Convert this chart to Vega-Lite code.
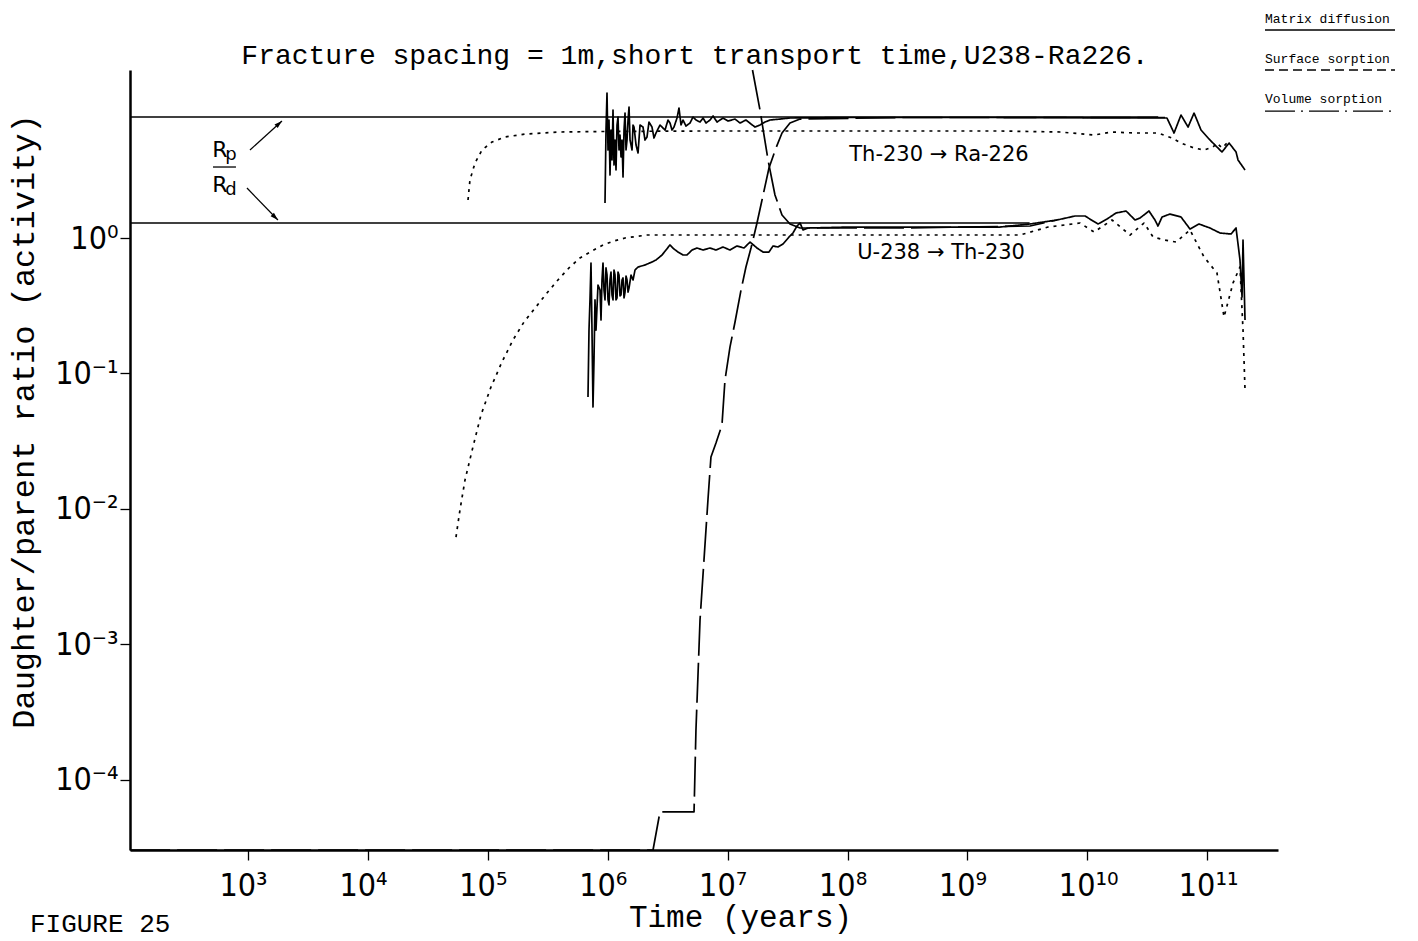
{
  "$schema": "https://vega.github.io/schema/vega-lite/v6.json",
  "width": 1148,
  "height": 780,
  "autosize": {"type": "none"},
  "padding": {"left": 130, "top": 70, "right": 140, "bottom": 91},
  "background": "white",
  "config": {"view": {"stroke": null}},
  "title": {
    "text": "Fracture spacing = 1m,short transport time,U238-Ra226.",
    "font": "Liberation Mono", "fontSize": 28, "fontWeight": "normal", "color": "black",
    "anchor": "middle", "frame": "group", "dx": -9, "dy": 85, "offset": 6, "baseline": "alphabetic"
  },
  "datasets": {
    "refs": [
      {"line": "Rp/Rd upper", "time": 104, "ratio": 7.82},
      {"line": "Rp/Rd upper", "time": 3.9e10, "ratio": 7.82},
      {"line": "Rp/Rd lower", "time": 104, "ratio": 1.29},
      {"line": "Rp/Rd lower", "time": 3.3e9, "ratio": 1.29}
    ],
    "curves": [
      {"series": "Th-230 to Ra-226, volume", "mechanism": "Volume sorption", "time": 6.84e4, "ratio": 1.908},
      {"series": "Th-230 to Ra-226, volume", "mechanism": "Volume sorption", "time": 7.10e4, "ratio": 2.679},
      {"series": "Th-230 to Ra-226, volume", "mechanism": "Volume sorption", "time": 7.82e4, "ratio": 3.577},
      {"series": "Th-230 to Ra-226, volume", "mechanism": "Volume sorption", "time": 8.95e4, "ratio": 4.462},
      {"series": "Th-230 to Ra-226, volume", "mechanism": "Volume sorption", "time": 1.084e5, "ratio": 5.110},
      {"series": "Th-230 to Ra-226, volume", "mechanism": "Volume sorption", "time": 1.39e5, "ratio": 5.564},
      {"series": "Th-230 to Ra-226, volume", "mechanism": "Volume sorption", "time": 2.042e5, "ratio": 5.853},
      {"series": "Th-230 to Ra-226, volume", "mechanism": "Volume sorption", "time": 4.0e5, "ratio": 6.058},
      {"series": "Th-230 to Ra-226, volume", "mechanism": "Volume sorption", "time": 8.63e5, "ratio": 6.109},
      {"series": "Th-230 to Ra-226, volume", "mechanism": "Volume sorption", "time": 5.888e6, "ratio": 6.163},
      {"series": "Th-230 to Ra-226, volume", "mechanism": "Volume sorption", "time": 1.05e8, "ratio": 6.163},
      {"series": "Th-230 to Ra-226, volume", "mechanism": "Volume sorption", "time": 1.871e9, "ratio": 6.163},
      {"series": "Th-230 to Ra-226, volume", "mechanism": "Volume sorption", "time": 5.916e9, "ratio": 6.058},
      {"series": "Th-230 to Ra-226, volume", "mechanism": "Volume sorption", "time": 1.137e10, "ratio": 5.755},
      {"series": "Th-230 to Ra-226, volume", "mechanism": "Volume sorption", "time": 1.607e10, "ratio": 6.058},
      {"series": "Th-230 to Ra-226, volume", "mechanism": "Volume sorption", "time": 2.5e10, "ratio": 5.956},
      {"series": "Th-230 to Ra-226, volume", "mechanism": "Volume sorption", "time": 3.882e10, "ratio": 5.956},
      {"series": "Th-230 to Ra-226, volume", "mechanism": "Volume sorption", "time": 5.082e10, "ratio": 5.47},
      {"series": "Th-230 to Ra-226, volume", "mechanism": "Volume sorption", "time": 6.039e10, "ratio": 5.024},
      {"series": "Th-230 to Ra-226, volume", "mechanism": "Volume sorption", "time": 7.762e10, "ratio": 4.616},
      {"series": "Th-230 to Ra-226, volume", "mechanism": "Volume sorption", "time": 9.397e10, "ratio": 4.462},
      {"series": "Th-230 to Ra-226, volume", "mechanism": "Volume sorption", "time": 1.117e11, "ratio": 4.695},
      {"series": "Th-230 to Ra-226, volume", "mechanism": "Volume sorption", "time": 1.205e11, "ratio": 5.024},
      {"series": "Th-230 to Ra-226, volume", "mechanism": "Volume sorption", "time": 1.327e11, "ratio": 4.616},
      {"series": "Th-230 to Ra-226, volume", "mechanism": "Volume sorption", "time": 1.462e11, "ratio": 5.024},

      {"series": "Th-230 to Ra-226, matrix", "mechanism": "Matrix diffusion", "time": 9.495e5, "ratio": 1.813},
      {"series": "Th-230 to Ra-226, matrix", "mechanism": "Matrix diffusion", "time": 9.679e5, "ratio": 6.266},
      {"series": "Th-230 to Ra-226, matrix", "mechanism": "Matrix diffusion", "time": 9.867e5, "ratio": 11.75},
      {"series": "Th-230 to Ra-226, matrix", "mechanism": "Matrix diffusion", "time": 1.0058e6, "ratio": 4.462},
      {"series": "Th-230 to Ra-226, matrix", "mechanism": "Matrix diffusion", "time": 1.0253e6, "ratio": 7.428},
      {"series": "Th-230 to Ra-226, matrix", "mechanism": "Matrix diffusion", "time": 1.0452e6, "ratio": 2.917},
      {"series": "Th-230 to Ra-226, matrix", "mechanism": "Matrix diffusion", "time": 1.0655e6, "ratio": 6.266},
      {"series": "Th-230 to Ra-226, matrix", "mechanism": "Matrix diffusion", "time": 1.0862e6, "ratio": 3.764},
      {"series": "Th-230 to Ra-226, matrix", "mechanism": "Matrix diffusion", "time": 1.1073e6, "ratio": 8.805},
      {"series": "Th-230 to Ra-226, matrix", "mechanism": "Matrix diffusion", "time": 1.1287e6, "ratio": 3.457},
      {"series": "Th-230 to Ra-226, matrix", "mechanism": "Matrix diffusion", "time": 1.1507e6, "ratio": 5.287},
      {"series": "Th-230 to Ra-226, matrix", "mechanism": "Matrix diffusion", "time": 1.173e6, "ratio": 3.176},
      {"series": "Th-230 to Ra-226, matrix", "mechanism": "Matrix diffusion", "time": 1.1958e6, "ratio": 6.823},
      {"series": "Th-230 to Ra-226, matrix", "mechanism": "Matrix diffusion", "time": 1.219e6, "ratio": 7.816},
      {"series": "Th-230 to Ra-226, matrix", "mechanism": "Matrix diffusion", "time": 1.2427e6, "ratio": 4.462},
      {"series": "Th-230 to Ra-226, matrix", "mechanism": "Matrix diffusion", "time": 1.2668e6, "ratio": 5.755},
      {"series": "Th-230 to Ra-226, matrix", "mechanism": "Matrix diffusion", "time": 1.2914e6, "ratio": 3.961},
      {"series": "Th-230 to Ra-226, matrix", "mechanism": "Matrix diffusion", "time": 1.3165e6, "ratio": 5.287},
      {"series": "Th-230 to Ra-226, matrix", "mechanism": "Matrix diffusion", "time": 1.342e6, "ratio": 2.818},
      {"series": "Th-230 to Ra-226, matrix", "mechanism": "Matrix diffusion", "time": 1.3681e6, "ratio": 6.266},
      {"series": "Th-230 to Ra-226, matrix", "mechanism": "Matrix diffusion", "time": 1.3947e6, "ratio": 8.366},
      {"series": "Th-230 to Ra-226, matrix", "mechanism": "Matrix diffusion", "time": 1.4218e6, "ratio": 4.462},
      {"series": "Th-230 to Ra-226, matrix", "mechanism": "Matrix diffusion", "time": 1.4494e6, "ratio": 5.287},
      {"series": "Th-230 to Ra-226, matrix", "mechanism": "Matrix diffusion", "time": 1.4775e6, "ratio": 7.428},
      {"series": "Th-230 to Ra-226, matrix", "mechanism": "Matrix diffusion", "time": 1.5062e6, "ratio": 9.265},
      {"series": "Th-230 to Ra-226, matrix", "mechanism": "Matrix diffusion", "time": 1.5354e6, "ratio": 5.287},
      {"series": "Th-230 to Ra-226, matrix", "mechanism": "Matrix diffusion", "time": 1.5956e6, "ratio": 4.462},
      {"series": "Th-230 to Ra-226, matrix", "mechanism": "Matrix diffusion", "time": 1.6265e6, "ratio": 6.823},
      {"series": "Th-230 to Ra-226, matrix", "mechanism": "Matrix diffusion", "time": 1.6581e6, "ratio": 6.592},
      {"series": "Th-230 to Ra-226, matrix", "mechanism": "Matrix diffusion", "time": 1.723e6, "ratio": 4.857},
      {"series": "Th-230 to Ra-226, matrix", "mechanism": "Matrix diffusion", "time": 1.7903e6, "ratio": 4.24},
      {"series": "Th-230 to Ra-226, matrix", "mechanism": "Matrix diffusion", "time": 1.8603e6, "ratio": 6.823},
      {"series": "Th-230 to Ra-226, matrix", "mechanism": "Matrix diffusion", "time": 1.9695e6, "ratio": 6.592},
      {"series": "Th-230 to Ra-226, matrix", "mechanism": "Matrix diffusion", "time": 2.0465e6, "ratio": 5.287},
      {"series": "Th-230 to Ra-226, matrix", "mechanism": "Matrix diffusion", "time": 2.1265e6, "ratio": 5.564},
      {"series": "Th-230 to Ra-226, matrix", "mechanism": "Matrix diffusion", "time": 2.2097e6, "ratio": 7.178},
      {"series": "Th-230 to Ra-226, matrix", "mechanism": "Matrix diffusion", "time": 2.3407e6, "ratio": 6.592},
      {"series": "Th-230 to Ra-226, matrix", "mechanism": "Matrix diffusion", "time": 2.4321e6, "ratio": 5.47},
      {"series": "Th-230 to Ra-226, matrix", "mechanism": "Matrix diffusion", "time": 2.5273e6, "ratio": 5.956},
      {"series": "Th-230 to Ra-226, matrix", "mechanism": "Matrix diffusion", "time": 2.7299e6, "ratio": 6.823},
      {"series": "Th-230 to Ra-226, matrix", "mechanism": "Matrix diffusion", "time": 3.0058e6, "ratio": 6.266},
      {"series": "Th-230 to Ra-226, matrix", "mechanism": "Matrix diffusion", "time": 3.1835e6, "ratio": 7.428},
      {"series": "Th-230 to Ra-226, matrix", "mechanism": "Matrix diffusion", "time": 3.3083e6, "ratio": 7.06},
      {"series": "Th-230 to Ra-226, matrix", "mechanism": "Matrix diffusion", "time": 3.4376e6, "ratio": 6.266},
      {"series": "Th-230 to Ra-226, matrix", "mechanism": "Matrix diffusion", "time": 3.5721e6, "ratio": 6.592},
      {"series": "Th-230 to Ra-226, matrix", "mechanism": "Matrix diffusion", "time": 3.784e6, "ratio": 7.685},
      {"series": "Th-230 to Ra-226, matrix", "mechanism": "Matrix diffusion", "time": 3.9323e6, "ratio": 9.109},
      {"series": "Th-230 to Ra-226, matrix", "mechanism": "Matrix diffusion", "time": 4.086e6, "ratio": 6.823},
      {"series": "Th-230 to Ra-226, matrix", "mechanism": "Matrix diffusion", "time": 4.2458e6, "ratio": 7.428},
      {"series": "Th-230 to Ra-226, matrix", "mechanism": "Matrix diffusion", "time": 4.4977e6, "ratio": 6.708},
      {"series": "Th-230 to Ra-226, matrix", "mechanism": "Matrix diffusion", "time": 4.8575e6, "ratio": 7.06},
      {"series": "Th-230 to Ra-226, matrix", "mechanism": "Matrix diffusion", "time": 5.1456e6, "ratio": 7.816},
      {"series": "Th-230 to Ra-226, matrix", "mechanism": "Matrix diffusion", "time": 5.4508e6, "ratio": 7.428},
      {"series": "Th-230 to Ra-226, matrix", "mechanism": "Matrix diffusion", "time": 5.8886e6, "ratio": 7.178},
      {"series": "Th-230 to Ra-226, matrix", "mechanism": "Matrix diffusion", "time": 6.2378e6, "ratio": 7.685},
      {"series": "Th-230 to Ra-226, matrix", "mechanism": "Matrix diffusion", "time": 6.6078e6, "ratio": 7.06},
      {"series": "Th-230 to Ra-226, matrix", "mechanism": "Matrix diffusion", "time": 7.1366e6, "ratio": 7.428},
      {"series": "Th-230 to Ra-226, matrix", "mechanism": "Matrix diffusion", "time": 7.5599e6, "ratio": 7.95},
      {"series": "Th-230 to Ra-226, matrix", "mechanism": "Matrix diffusion", "time": 8.1647e6, "ratio": 7.178},
      {"series": "Th-230 to Ra-226, matrix", "mechanism": "Matrix diffusion", "time": 9.1566e6, "ratio": 7.685},
      {"series": "Th-230 to Ra-226, matrix", "mechanism": "Matrix diffusion", "time": 1.0077e7, "ratio": 7.30},
      {"series": "Th-230 to Ra-226, matrix", "mechanism": "Matrix diffusion", "time": 1.1527e7, "ratio": 7.551},
      {"series": "Th-230 to Ra-226, matrix", "mechanism": "Matrix diffusion", "time": 1.2688e7, "ratio": 7.06},
      {"series": "Th-230 to Ra-226, matrix", "mechanism": "Matrix diffusion", "time": 1.4236e7, "ratio": 7.428},
      {"series": "Th-230 to Ra-226, matrix", "mechanism": "Matrix diffusion", "time": 1.5672e7, "ratio": 6.94},
      {"series": "Th-230 to Ra-226, matrix", "mechanism": "Matrix diffusion", "time": 1.6921e7, "ratio": 6.592},
      {"series": "Th-230 to Ra-226, matrix", "mechanism": "Matrix diffusion", "time": 1.8629e7, "ratio": 6.823},
      {"series": "Th-230 to Ra-226, matrix", "mechanism": "Matrix diffusion", "time": 2.0509e7, "ratio": 7.178},
      {"series": "Th-230 to Ra-226, matrix", "mechanism": "Matrix diffusion", "time": 2.2579e7, "ratio": 7.428},
      {"series": "Th-230 to Ra-226, matrix", "mechanism": "Matrix diffusion", "time": 2.7353e7, "ratio": 7.551},
      {"series": "Th-230 to Ra-226, matrix", "mechanism": "Matrix diffusion", "time": 3.3139e7, "ratio": 7.685},
      {"series": "Th-230 to Ra-226, matrix", "mechanism": "Matrix diffusion", "time": 1.05e8, "ratio": 7.751},
      {"series": "Th-230 to Ra-226, matrix", "mechanism": "Matrix diffusion", "time": 1.871e9, "ratio": 7.751},
      {"series": "Th-230 to Ra-226, matrix", "mechanism": "Matrix diffusion", "time": 3.882e10, "ratio": 7.685},
      {"series": "Th-230 to Ra-226, matrix", "mechanism": "Matrix diffusion", "time": 4.613e10, "ratio": 7.685},
      {"series": "Th-230 to Ra-226, matrix", "mechanism": "Matrix diffusion", "time": 5.284e10, "ratio": 5.956},
      {"series": "Th-230 to Ra-226, matrix", "mechanism": "Matrix diffusion", "time": 6.039e10, "ratio": 8.086},
      {"series": "Th-230 to Ra-226, matrix", "mechanism": "Matrix diffusion", "time": 6.918e10, "ratio": 6.592},
      {"series": "Th-230 to Ra-226, matrix", "mechanism": "Matrix diffusion", "time": 7.762e10, "ratio": 8.366},
      {"series": "Th-230 to Ra-226, matrix", "mechanism": "Matrix diffusion", "time": 8.872e10, "ratio": 6.266},
      {"series": "Th-230 to Ra-226, matrix", "mechanism": "Matrix diffusion", "time": 1.054e11, "ratio": 5.287},
      {"series": "Th-230 to Ra-226, matrix", "mechanism": "Matrix diffusion", "time": 1.327e11, "ratio": 4.313},
      {"series": "Th-230 to Ra-226, matrix", "mechanism": "Matrix diffusion", "time": 1.521e11, "ratio": 5.024},
      {"series": "Th-230 to Ra-226, matrix", "mechanism": "Matrix diffusion", "time": 1.738e11, "ratio": 4.313},
      {"series": "Th-230 to Ra-226, matrix", "mechanism": "Matrix diffusion", "time": 1.806e11, "ratio": 3.764},
      {"series": "Th-230 to Ra-226, matrix", "mechanism": "Matrix diffusion", "time": 2.065e11, "ratio": 3.176},

      {"series": "Th-230 to Ra-226, surface", "mechanism": "Surface sorption", "time": 104, "ratio": 3.04e-5},
      {"series": "Th-230 to Ra-226, surface", "mechanism": "Surface sorption", "time": 2.388e6, "ratio": 3.04e-5},
      {"series": "Th-230 to Ra-226, surface", "mechanism": "Surface sorption", "time": 2.729e6, "ratio": 5.81e-5},
      {"series": "Th-230 to Ra-226, surface", "mechanism": "Surface sorption", "time": 5.248e6, "ratio": 5.81e-5},
      {"series": "Th-230 to Ra-226, surface", "mechanism": "Surface sorption", "time": 5.445e6, "ratio": 2.34e-4},
      {"series": "Th-230 to Ra-226, surface", "mechanism": "Surface sorption", "time": 5.888e6, "ratio": 1.52e-3},
      {"series": "Th-230 to Ra-226, surface", "mechanism": "Surface sorption", "time": 6.353e6, "ratio": 4.21e-3},
      {"series": "Th-230 to Ra-226, surface", "mechanism": "Surface sorption", "time": 6.855e6, "ratio": 1.164e-2},
      {"series": "Th-230 to Ra-226, surface", "mechanism": "Surface sorption", "time": 7.262e6, "ratio": 2.42e-2},
      {"series": "Th-230 to Ra-226, surface", "mechanism": "Surface sorption", "time": 7.998e6, "ratio": 3.07e-2},
      {"series": "Th-230 to Ra-226, surface", "mechanism": "Surface sorption", "time": 8.974e6, "ratio": 4.17e-2},
      {"series": "Th-230 to Ra-226, surface", "mechanism": "Surface sorption", "time": 9.506e6, "ratio": 8.95e-2},
      {"series": "Th-230 to Ra-226, surface", "mechanism": "Surface sorption", "time": 1.047e7, "ratio": 0.157},
      {"series": "Th-230 to Ra-226, surface", "mechanism": "Surface sorption", "time": 1.153e7, "ratio": 0.24},
      {"series": "Th-230 to Ra-226, surface", "mechanism": "Surface sorption", "time": 1.294e7, "ratio": 0.413},
      {"series": "Th-230 to Ra-226, surface", "mechanism": "Surface sorption", "time": 1.422e7, "ratio": 0.611},
      {"series": "Th-230 to Ra-226, surface", "mechanism": "Surface sorption", "time": 1.567e7, "ratio": 0.844},
      {"series": "Th-230 to Ra-226, surface", "mechanism": "Surface sorption", "time": 1.758e7, "ratio": 1.29},
      {"series": "Th-230 to Ra-226, surface", "mechanism": "Surface sorption", "time": 1.936e7, "ratio": 1.908},
      {"series": "Th-230 to Ra-226, surface", "mechanism": "Surface sorption", "time": 2.213e7, "ratio": 3.286},
      {"series": "Th-230 to Ra-226, surface", "mechanism": "Surface sorption", "time": 2.532e7, "ratio": 4.616},
      {"series": "Th-230 to Ra-226, surface", "mechanism": "Surface sorption", "time": 2.842e7, "ratio": 5.956},
      {"series": "Th-230 to Ra-226, surface", "mechanism": "Surface sorption", "time": 3.312e7, "ratio": 7.06},
      {"series": "Th-230 to Ra-226, surface", "mechanism": "Surface sorption", "time": 4.018e7, "ratio": 7.551},
      {"series": "Th-230 to Ra-226, surface", "mechanism": "Surface sorption", "time": 2.742e8, "ratio": 7.751},
      {"series": "Th-230 to Ra-226, surface", "mechanism": "Surface sorption", "time": 4.446e10, "ratio": 7.751},

      {"series": "U-238 to Th-230, surface", "mechanism": "Surface sorption", "time": 1.613e7, "ratio": 17.38},
      {"series": "U-238 to Th-230, surface", "mechanism": "Surface sorption", "time": 1.862e7, "ratio": 8.805},
      {"series": "U-238 to Th-230, surface", "mechanism": "Surface sorption", "time": 2.173e7, "ratio": 3.764},
      {"series": "U-238 to Th-230, surface", "mechanism": "Surface sorption", "time": 2.483e7, "ratio": 2.077},
      {"series": "U-238 to Th-230, surface", "mechanism": "Surface sorption", "time": 2.842e7, "ratio": 1.478},
      {"series": "U-238 to Th-230, surface", "mechanism": "Surface sorption", "time": 3.312e7, "ratio": 1.269},
      {"series": "U-238 to Th-230, surface", "mechanism": "Surface sorption", "time": 4.018e7, "ratio": 1.185},
      {"series": "U-238 to Th-230, surface", "mechanism": "Surface sorption", "time": 2.742e8, "ratio": 1.185},
      {"series": "U-238 to Th-230, surface", "mechanism": "Surface sorption", "time": 3.327e9, "ratio": 1.226},
      {"series": "U-238 to Th-230, surface", "mechanism": "Surface sorption", "time": 5.585e9, "ratio": 1.358},

      {"series": "U-238 to Th-230, matrix", "mechanism": "Matrix diffusion", "time": 6.849e5, "ratio": 0.0671},
      {"series": "U-238 to Th-230, matrix", "mechanism": "Matrix diffusion", "time": 6.982e5, "ratio": 0.209},
      {"series": "U-238 to Th-230, matrix", "mechanism": "Matrix diffusion", "time": 7.117e5, "ratio": 0.349},
      {"series": "U-238 to Th-230, matrix", "mechanism": "Matrix diffusion", "time": 7.255e5, "ratio": 0.654},
      {"series": "U-238 to Th-230, matrix", "mechanism": "Matrix diffusion", "time": 7.396e5, "ratio": 0.209},
      {"series": "U-238 to Th-230, matrix", "mechanism": "Matrix diffusion", "time": 7.539e5, "ratio": 0.0566},
      {"series": "U-238 to Th-230, matrix", "mechanism": "Matrix diffusion", "time": 7.686e5, "ratio": 0.1258},
      {"series": "U-238 to Th-230, matrix", "mechanism": "Matrix diffusion", "time": 7.835e5, "ratio": 0.349},
      {"series": "U-238 to Th-230, matrix", "mechanism": "Matrix diffusion", "time": 7.987e5, "ratio": 0.209},
      {"series": "U-238 to Th-230, matrix", "mechanism": "Matrix diffusion", "time": 8.3e5, "ratio": 0.4498},
      {"series": "U-238 to Th-230, matrix", "mechanism": "Matrix diffusion", "time": 8.626e5, "ratio": 0.413},
      {"series": "U-238 to Th-230, matrix", "mechanism": "Matrix diffusion", "time": 8.793e5, "ratio": 0.248},
      {"series": "U-238 to Th-230, matrix", "mechanism": "Matrix diffusion", "time": 8.964e5, "ratio": 0.49},
      {"series": "U-238 to Th-230, matrix", "mechanism": "Matrix diffusion", "time": 9.138e5, "ratio": 0.654},
      {"series": "U-238 to Th-230, matrix", "mechanism": "Matrix diffusion", "time": 9.315e5, "ratio": 0.413},
      {"series": "U-238 to Th-230, matrix", "mechanism": "Matrix diffusion", "time": 9.495e5, "ratio": 0.349},
      {"series": "U-238 to Th-230, matrix", "mechanism": "Matrix diffusion", "time": 9.679e5, "ratio": 0.601},
      {"series": "U-238 to Th-230, matrix", "mechanism": "Matrix diffusion", "time": 9.867e5, "ratio": 0.533},
      {"series": "U-238 to Th-230, matrix", "mechanism": "Matrix diffusion", "time": 1.0058e6, "ratio": 0.349},
      {"series": "U-238 to Th-230, matrix", "mechanism": "Matrix diffusion", "time": 1.0253e6, "ratio": 0.321},
      {"series": "U-238 to Th-230, matrix", "mechanism": "Matrix diffusion", "time": 1.0452e6, "ratio": 0.49},
      {"series": "U-238 to Th-230, matrix", "mechanism": "Matrix diffusion", "time": 1.0655e6, "ratio": 0.561},
      {"series": "U-238 to Th-230, matrix", "mechanism": "Matrix diffusion", "time": 1.0862e6, "ratio": 0.38},
      {"series": "U-238 to Th-230, matrix", "mechanism": "Matrix diffusion", "time": 1.1073e6, "ratio": 0.349},
      {"series": "U-238 to Th-230, matrix", "mechanism": "Matrix diffusion", "time": 1.1287e6, "ratio": 0.5804},
      {"series": "U-238 to Th-230, matrix", "mechanism": "Matrix diffusion", "time": 1.1507e6, "ratio": 0.533},
      {"series": "U-238 to Th-230, matrix", "mechanism": "Matrix diffusion", "time": 1.173e6, "ratio": 0.349},
      {"series": "U-238 to Th-230, matrix", "mechanism": "Matrix diffusion", "time": 1.1958e6, "ratio": 0.361},
      {"series": "U-238 to Th-230, matrix", "mechanism": "Matrix diffusion", "time": 1.219e6, "ratio": 0.561},
      {"series": "U-238 to Th-230, matrix", "mechanism": "Matrix diffusion", "time": 1.2427e6, "ratio": 0.533},
      {"series": "U-238 to Th-230, matrix", "mechanism": "Matrix diffusion", "time": 1.2668e6, "ratio": 0.3733},
      {"series": "U-238 to Th-230, matrix", "mechanism": "Matrix diffusion", "time": 1.2914e6, "ratio": 0.38},
      {"series": "U-238 to Th-230, matrix", "mechanism": "Matrix diffusion", "time": 1.3165e6, "ratio": 0.49},
      {"series": "U-238 to Th-230, matrix", "mechanism": "Matrix diffusion", "time": 1.342e6, "ratio": 0.507},
      {"series": "U-238 to Th-230, matrix", "mechanism": "Matrix diffusion", "time": 1.3681e6, "ratio": 0.361},
      {"series": "U-238 to Th-230, matrix", "mechanism": "Matrix diffusion", "time": 1.3947e6, "ratio": 0.399},
      {"series": "U-238 to Th-230, matrix", "mechanism": "Matrix diffusion", "time": 1.4218e6, "ratio": 0.5243},
      {"series": "U-238 to Th-230, matrix", "mechanism": "Matrix diffusion", "time": 1.4494e6, "ratio": 0.49},
      {"series": "U-238 to Th-230, matrix", "mechanism": "Matrix diffusion", "time": 1.4775e6, "ratio": 0.399},
      {"series": "U-238 to Th-230, matrix", "mechanism": "Matrix diffusion", "time": 1.5062e6, "ratio": 0.428},
      {"series": "U-238 to Th-230, matrix", "mechanism": "Matrix diffusion", "time": 1.5652e6, "ratio": 0.533},
      {"series": "U-238 to Th-230, matrix", "mechanism": "Matrix diffusion", "time": 1.6265e6, "ratio": 0.49},
      {"series": "U-238 to Th-230, matrix", "mechanism": "Matrix diffusion", "time": 1.6899e6, "ratio": 0.5804},
      {"series": "U-238 to Th-230, matrix", "mechanism": "Matrix diffusion", "time": 1.7903e6, "ratio": 0.611},
      {"series": "U-238 to Th-230, matrix", "mechanism": "Matrix diffusion", "time": 2.046e6, "ratio": 0.632},
      {"series": "U-238 to Th-230, matrix", "mechanism": "Matrix diffusion", "time": 2.339e6, "ratio": 0.665},
      {"series": "U-238 to Th-230, matrix", "mechanism": "Matrix diffusion", "time": 2.529e6, "ratio": 0.688},
      {"series": "U-238 to Th-230, matrix", "mechanism": "Matrix diffusion", "time": 2.838e6, "ratio": 0.749},
      {"series": "U-238 to Th-230, matrix", "mechanism": "Matrix diffusion", "time": 3.062e6, "ratio": 0.815},
      {"series": "U-238 to Th-230, matrix", "mechanism": "Matrix diffusion", "time": 3.304e6, "ratio": 0.888},
      {"series": "U-238 to Th-230, matrix", "mechanism": "Matrix diffusion", "time": 3.573e6, "ratio": 0.829},
      {"series": "U-238 to Th-230, matrix", "mechanism": "Matrix diffusion", "time": 3.855e6, "ratio": 0.788},
      {"series": "U-238 to Th-230, matrix", "mechanism": "Matrix diffusion", "time": 4.246e6, "ratio": 0.749},
      {"series": "U-238 to Th-230, matrix", "mechanism": "Matrix diffusion", "time": 4.581e6, "ratio": 0.749},
      {"series": "U-238 to Th-230, matrix", "mechanism": "Matrix diffusion", "time": 5.047e6, "ratio": 0.815},
      {"series": "U-238 to Th-230, matrix", "mechanism": "Matrix diffusion", "time": 5.559e6, "ratio": 0.844},
      {"series": "U-238 to Th-230, matrix", "mechanism": "Matrix diffusion", "time": 6.237e6, "ratio": 0.815},
      {"series": "U-238 to Th-230, matrix", "mechanism": "Matrix diffusion", "time": 7.129e6, "ratio": 0.844},
      {"series": "U-238 to Th-230, matrix", "mechanism": "Matrix diffusion", "time": 7.998e6, "ratio": 0.815},
      {"series": "U-238 to Th-230, matrix", "mechanism": "Matrix diffusion", "time": 9.153e6, "ratio": 0.858},
      {"series": "U-238 to Th-230, matrix", "mechanism": "Matrix diffusion", "time": 1.047e7, "ratio": 0.815},
      {"series": "U-238 to Th-230, matrix", "mechanism": "Matrix diffusion", "time": 1.197e7, "ratio": 0.873},
      {"series": "U-238 to Th-230, matrix", "mechanism": "Matrix diffusion", "time": 1.371e7, "ratio": 0.844},
      {"series": "U-238 to Th-230, matrix", "mechanism": "Matrix diffusion", "time": 1.538e7, "ratio": 0.934},
      {"series": "U-238 to Th-230, matrix", "mechanism": "Matrix diffusion", "time": 1.758e7, "ratio": 0.844},
      {"series": "U-238 to Th-230, matrix", "mechanism": "Matrix diffusion", "time": 1.972e7, "ratio": 0.788},
      {"series": "U-238 to Th-230, matrix", "mechanism": "Matrix diffusion", "time": 2.213e7, "ratio": 0.788},
      {"series": "U-238 to Th-230, matrix", "mechanism": "Matrix diffusion", "time": 2.391e7, "ratio": 0.873},
      {"series": "U-238 to Th-230, matrix", "mechanism": "Matrix diffusion", "time": 2.63e7, "ratio": 0.858},
      {"series": "U-238 to Th-230, matrix", "mechanism": "Matrix diffusion", "time": 2.897e7, "ratio": 0.903},
      {"series": "U-238 to Th-230, matrix", "mechanism": "Matrix diffusion", "time": 3.251e7, "ratio": 1.017},
      {"series": "U-238 to Th-230, matrix", "mechanism": "Matrix diffusion", "time": 3.508e7, "ratio": 1.089},
      {"series": "U-238 to Th-230, matrix", "mechanism": "Matrix diffusion", "time": 3.793e7, "ratio": 1.226},
      {"series": "U-238 to Th-230, matrix", "mechanism": "Matrix diffusion", "time": 4.018e7, "ratio": 1.29},
      {"series": "U-238 to Th-230, matrix", "mechanism": "Matrix diffusion", "time": 4.256e7, "ratio": 1.146},
      {"series": "U-238 to Th-230, matrix", "mechanism": "Matrix diffusion", "time": 4.677e7, "ratio": 1.185},
      {"series": "U-238 to Th-230, matrix", "mechanism": "Matrix diffusion", "time": 1.05e8, "ratio": 1.205},
      {"series": "U-238 to Th-230, matrix", "mechanism": "Matrix diffusion", "time": 1.871e9, "ratio": 1.205},
      {"series": "U-238 to Th-230, matrix", "mechanism": "Matrix diffusion", "time": 3.327e9, "ratio": 1.269},
      {"series": "U-238 to Th-230, matrix", "mechanism": "Matrix diffusion", "time": 5.585e9, "ratio": 1.358},
      {"series": "U-238 to Th-230, matrix", "mechanism": "Matrix diffusion", "time": 7.889e9, "ratio": 1.453},
      {"series": "U-238 to Th-230, matrix", "mechanism": "Matrix diffusion", "time": 9.57e9, "ratio": 1.453},
      {"series": "U-238 to Th-230, matrix", "mechanism": "Matrix diffusion", "time": 1.115e10, "ratio": 1.335},
      {"series": "U-238 to Th-230, matrix", "mechanism": "Matrix diffusion", "time": 1.227e10, "ratio": 1.269},
      {"series": "U-238 to Th-230, matrix", "mechanism": "Matrix diffusion", "time": 1.459e10, "ratio": 1.381},
      {"series": "U-238 to Th-230, matrix", "mechanism": "Matrix diffusion", "time": 1.734e10, "ratio": 1.529},
      {"series": "U-238 to Th-230, matrix", "mechanism": "Matrix diffusion", "time": 2.104e10, "ratio": 1.582},
      {"series": "U-238 to Th-230, matrix", "mechanism": "Matrix diffusion", "time": 2.5e10, "ratio": 1.358},
      {"series": "U-238 to Th-230, matrix", "mechanism": "Matrix diffusion", "time": 2.748e10, "ratio": 1.405},
      {"series": "U-238 to Th-230, matrix", "mechanism": "Matrix diffusion", "time": 3.266e10, "ratio": 1.582},
      {"series": "U-238 to Th-230, matrix", "mechanism": "Matrix diffusion", "time": 3.664e10, "ratio": 1.358},
      {"series": "U-238 to Th-230, matrix", "mechanism": "Matrix diffusion", "time": 3.882e10, "ratio": 1.226},
      {"series": "U-238 to Th-230, matrix", "mechanism": "Matrix diffusion", "time": 4.198e10, "ratio": 1.429},
      {"series": "U-238 to Th-230, matrix", "mechanism": "Matrix diffusion", "time": 4.887e10, "ratio": 1.503},
      {"series": "U-238 to Th-230, matrix", "mechanism": "Matrix diffusion", "time": 6.039e10, "ratio": 1.429},
      {"series": "U-238 to Th-230, matrix", "mechanism": "Matrix diffusion", "time": 7.178e10, "ratio": 1.165},
      {"series": "U-238 to Th-230, matrix", "mechanism": "Matrix diffusion", "time": 8.531e10, "ratio": 1.269},
      {"series": "U-238 to Th-230, matrix", "mechanism": "Matrix diffusion", "time": 1.054e11, "ratio": 1.185},
      {"series": "U-238 to Th-230, matrix", "mechanism": "Matrix diffusion", "time": 1.276e11, "ratio": 1.089},
      {"series": "U-238 to Th-230, matrix", "mechanism": "Matrix diffusion", "time": 1.578e11, "ratio": 1.07},
      {"series": "U-238 to Th-230, matrix", "mechanism": "Matrix diffusion", "time": 1.738e11, "ratio": 1.185},
      {"series": "U-238 to Th-230, matrix", "mechanism": "Matrix diffusion", "time": 1.875e11, "ratio": 0.688},
      {"series": "U-238 to Th-230, matrix", "mechanism": "Matrix diffusion", "time": 1.95e11, "ratio": 0.367},
      {"series": "U-238 to Th-230, matrix", "mechanism": "Matrix diffusion", "time": 1.987e11, "ratio": 0.966},
      {"series": "U-238 to Th-230, matrix", "mechanism": "Matrix diffusion", "time": 2.065e11, "ratio": 0.248},

      {"series": "U-238 to Th-230, volume", "mechanism": "Volume sorption", "time": 5.43e4, "ratio": 0.00621},
      {"series": "U-238 to Th-230, volume", "mechanism": "Volume sorption", "time": 5.86e4, "ratio": 0.00984},
      {"series": "U-238 to Th-230, volume", "mechanism": "Volume sorption", "time": 6.46e4, "ratio": 0.0164},
      {"series": "U-238 to Th-230, volume", "mechanism": "Volume sorption", "time": 7.52e4, "ratio": 0.0287},
      {"series": "U-238 to Th-230, volume", "mechanism": "Volume sorption", "time": 8.77e4, "ratio": 0.0494},
      {"series": "U-238 to Th-230, volume", "mechanism": "Volume sorption", "time": 1.063e5, "ratio": 0.0794},
      {"series": "U-238 to Th-230, volume", "mechanism": "Volume sorption", "time": 1.313e5, "ratio": 0.1216},
      {"series": "U-238 to Th-230, volume", "mechanism": "Volume sorption", "time": 1.622e5, "ratio": 0.1766},
      {"series": "U-238 to Th-230, volume", "mechanism": "Volume sorption", "time": 2.004e5, "ratio": 0.24},
      {"series": "U-238 to Th-230, volume", "mechanism": "Volume sorption", "time": 2.523e5, "ratio": 0.31},
      {"series": "U-238 to Th-230, volume", "mechanism": "Volume sorption", "time": 3.116e5, "ratio": 0.393},
      {"series": "U-238 to Th-230, volume", "mechanism": "Volume sorption", "time": 3.846e5, "ratio": 0.49},
      {"series": "U-238 to Th-230, volume", "mechanism": "Volume sorption", "time": 4.75e5, "ratio": 0.601},
      {"series": "U-238 to Th-230, volume", "mechanism": "Volume sorption", "time": 5.87e5, "ratio": 0.712},
      {"series": "U-238 to Th-230, volume", "mechanism": "Volume sorption", "time": 7.40e5, "ratio": 0.802},
      {"series": "U-238 to Th-230, volume", "mechanism": "Volume sorption", "time": 9.14e5, "ratio": 0.888},
      {"series": "U-238 to Th-230, volume", "mechanism": "Volume sorption", "time": 1.128e6, "ratio": 0.95},
      {"series": "U-238 to Th-230, volume", "mechanism": "Volume sorption", "time": 1.393e6, "ratio": 1.0},
      {"series": "U-238 to Th-230, volume", "mechanism": "Volume sorption", "time": 2.128e6, "ratio": 1.052},
      {"series": "U-238 to Th-230, volume", "mechanism": "Volume sorption", "time": 5.888e6, "ratio": 1.052},
      {"series": "U-238 to Th-230, volume", "mechanism": "Volume sorption", "time": 2.742e9, "ratio": 1.052},
      {"series": "U-238 to Th-230, volume", "mechanism": "Volume sorption", "time": 4.699e9, "ratio": 1.205},
      {"series": "U-238 to Th-230, volume", "mechanism": "Volume sorption", "time": 8.69e9, "ratio": 1.29},
      {"series": "U-238 to Th-230, volume", "mechanism": "Volume sorption", "time": 1.137e10, "ratio": 1.107},
      {"series": "U-238 to Th-230, volume", "mechanism": "Volume sorption", "time": 1.607e10, "ratio": 1.358},
      {"series": "U-238 to Th-230, volume", "mechanism": "Volume sorption", "time": 2.27e10, "ratio": 1.052},
      {"series": "U-238 to Th-230, volume", "mechanism": "Volume sorption", "time": 2.972e10, "ratio": 1.29},
      {"series": "U-238 to Th-230, volume", "mechanism": "Volume sorption", "time": 3.532e10, "ratio": 1.017},
      {"series": "U-238 to Th-230, volume", "mechanism": "Volume sorption", "time": 4.446e10, "ratio": 0.966},
      {"series": "U-238 to Th-230, volume", "mechanism": "Volume sorption", "time": 5.495e10, "ratio": 0.934},
      {"series": "U-238 to Th-230, volume", "mechanism": "Volume sorption", "time": 7.178e10, "ratio": 1.146},
      {"series": "U-238 to Th-230, volume", "mechanism": "Volume sorption", "time": 9.397e10, "ratio": 0.724},
      {"series": "U-238 to Th-230, volume", "mechanism": "Volume sorption", "time": 1.205e11, "ratio": 0.552},
      {"series": "U-238 to Th-230, volume", "mechanism": "Volume sorption", "time": 1.38e11, "ratio": 0.261},
      {"series": "U-238 to Th-230, volume", "mechanism": "Volume sorption", "time": 1.641e11, "ratio": 0.466},
      {"series": "U-238 to Th-230, volume", "mechanism": "Volume sorption", "time": 1.875e11, "ratio": 0.611},
      {"series": "U-238 to Th-230, volume", "mechanism": "Volume sorption", "time": 1.987e11, "ratio": 0.209},
      {"series": "U-238 to Th-230, volume", "mechanism": "Volume sorption", "time": 2.065e11, "ratio": 0.0755}
    ]
  },
  "layer": [
    {
      "data": {"name": "refs"},
      "mark": {"type": "line", "color": "black", "strokeWidth": 1.3},
      "encoding": {
        "x": {
          "field": "time", "type": "quantitative",
          "scale": {"type": "log", "domain": [103.8, 3.89e11], "nice": false},
          "axis": {
            "values": [1e3, 1e4, 1e5, 1e6, 1e7, 1e8, 1e9, 1e10, 1e11],
            "labelExpr": "'10' + (datum.value > 5e10 ? '¹¹' : datum.value > 5e9 ? '¹⁰' : datum.value > 5e8 ? '⁹' : datum.value > 5e7 ? '⁸' : datum.value > 5e6 ? '⁷' : datum.value > 5e5 ? '⁶' : datum.value > 5e4 ? '⁵' : datum.value > 5e3 ? '⁴' : '³')",
            "grid": false, "domainColor": "black", "domainWidth": 2.5,
            "tickColor": "black", "tickWidth": 1.3, "tickSize": 10,
            "labelFont": "Liberation Sans Narrow, DejaVu Sans Condensed, DejaVu Sans", "labelFontSize": 32, "labelColor": "black",
            "labelAlign": "left", "labelOffset": -29, "labelBaseline": "alphabetic", "labelPadding": 35,
            "labelFlush": false, "labelOverlap": false,
            "title": "Time (years)", "titleFont": "Liberation Mono", "titleFontSize": 31, "titleFontWeight": "normal", "titleColor": "black",
            "titleX": 610, "titleY": 76, "titleAlign": "center", "titleBaseline": "alphabetic"
          }
        },
        "y": {
          "field": "ratio", "type": "quantitative",
          "scale": {"type": "log", "domain": [3.04e-5, 17.38], "nice": false},
          "axis": {
            "values": [1e-4, 1e-3, 1e-2, 1e-1, 1],
            "labelExpr": "'10' + (datum.value > 0.5 ? '⁰' : datum.value > 0.05 ? '⁻¹' : datum.value > 0.005 ? '⁻²' : datum.value > 0.0005 ? '⁻³' : '⁻⁴')",
            "grid": false, "domainColor": "black", "domainWidth": 2.5,
            "tickColor": "black", "tickWidth": 1.3, "tickSize": 10,
            "labelFont": "Liberation Sans Narrow, DejaVu Sans Condensed, DejaVu Sans", "labelFontSize": 32, "labelColor": "black",
            "labelPadding": 2, "labelBaseline": "middle", "labelFlush": false, "labelOverlap": false,
            "title": "Daughter/parent ratio (activity)", "titleFont": "Liberation Mono", "titleFontSize": 32, "titleFontWeight": "normal", "titleColor": "black",
            "titleX": -97, "titleY": 351, "titleAngle": 270, "titleAlign": "center", "titleBaseline": "alphabetic"
          }
        },
        "detail": {"field": "line"}
      }
    },
    {
      "data": {"name": "curves"},
      "mark": {"type": "line", "color": "black", "strokeWidth": 1.7, "strokeJoin": "round"},
      "encoding": {
        "x": {"field": "time", "type": "quantitative", "title": "Time (years)"},
        "y": {"field": "ratio", "type": "quantitative", "title": "Daughter/parent ratio (activity)"},
        "detail": {"field": "series"},
        "strokeDash": {
          "field": "mechanism", "type": "nominal",
          "scale": {"domain": ["Matrix diffusion", "Surface sorption", "Volume sorption"], "range": [[1, 0], [40, 7], [3, 5]]},
          "legend": null
        }
      }
    },
    {
      "data": {"values": [{}]},
      "mark": {"type": "text", "text": "R", "font": "DejaVu Sans", "fontSize": 22, "color": "black", "align": "center", "baseline": "alphabetic"},
      "encoding": {"x": {"datum": 584, "type": "quantitative"}, "y": {"datum": 3.96, "type": "quantitative"}}
    },
    {
      "data": {"values": [{}]},
      "mark": {"type": "text", "text": "p", "font": "DejaVu Sans", "fontSize": 18, "color": "black", "align": "center", "baseline": "alphabetic"},
      "encoding": {"x": {"datum": 721, "type": "quantitative"}, "y": {"datum": 3.764, "type": "quantitative"}}
    },
    {
      "data": {"values": [{}]},
      "mark": {"type": "text", "text": "R", "font": "DejaVu Sans", "fontSize": 22, "color": "black", "align": "center", "baseline": "alphabetic"},
      "encoding": {"x": {"datum": 584, "type": "quantitative"}, "y": {"datum": 2.185, "type": "quantitative"}}
    },
    {
      "data": {"values": [{}]},
      "mark": {"type": "text", "text": "d", "font": "DejaVu Sans", "fontSize": 18, "color": "black", "align": "center", "baseline": "alphabetic"},
      "encoding": {"x": {"datum": 721, "type": "quantitative"}, "y": {"datum": 2.077, "type": "quantitative"}}
    },
    {
      "data": {"values": [{}]},
      "mark": {"type": "rule", "color": "black", "strokeWidth": 1.3},
      "encoding": {"x": {"datum": 511, "type": "quantitative"}, "x2": {"datum": 794}, "y": {"datum": 3.342, "type": "quantitative"}}
    },
    {
      "data": {"values": [{}]},
      "mark": {"type": "rule", "color": "black", "strokeWidth": 1.2},
      "encoding": {"x": {"datum": 1039, "type": "quantitative"}, "x2": {"datum": 1921}, "y": {"datum": 4.462, "type": "quantitative"}, "y2": {"datum": 7.30}}
    },
    {
      "data": {"values": [{}]},
      "mark": {"type": "rule", "color": "black", "strokeWidth": 1.2},
      "encoding": {"x": {"datum": 981, "type": "quantitative"}, "x2": {"datum": 1778}, "y": {"datum": 2.339, "type": "quantitative"}, "y2": {"datum": 1.358}}
    },
    {
      "data": {"values": [{}]},
      "mark": {"type": "point", "shape": "M0,0L-0.3,1L0.3,1Z", "filled": true, "color": "black", "opacity": 1, "size": 250, "angle": 47.8},
      "encoding": {"x": {"datum": 1921, "type": "quantitative"}, "y": {"datum": 7.30, "type": "quantitative"}}
    },
    {
      "data": {"values": [{}]},
      "mark": {"type": "point", "shape": "M0,0L-0.3,1L0.3,1Z", "filled": true, "color": "black", "opacity": 1, "size": 250, "angle": 134.1},
      "encoding": {"x": {"datum": 1778, "type": "quantitative"}, "y": {"datum": 1.358, "type": "quantitative"}}
    },
    {
      "data": {"values": [{}]},
      "mark": {"type": "text", "text": "Th-230 → Ra-226", "font": "DejaVu Sans", "fontSize": 21, "color": "black", "align": "center", "baseline": "middle"},
      "encoding": {"x": {"datum": 5.79e8, "type": "quantitative"}, "y": {"datum": 4.10, "type": "quantitative"}}
    },
    {
      "data": {"values": [{}]},
      "mark": {"type": "text", "text": "U-238 → Th-230", "font": "DejaVu Sans", "fontSize": 21, "color": "black", "align": "center", "baseline": "middle"},
      "encoding": {"x": {"datum": 6.03e8, "type": "quantitative"}, "y": {"datum": 0.775, "type": "quantitative"}}
    },
    {
      "data": {"values": [{}]},
      "mark": {"type": "text", "text": "Matrix diffusion", "font": "Liberation Mono", "fontSize": 13, "color": "black", "align": "left", "baseline": "alphabetic"},
      "encoding": {"x": {"datum": 3.03e11, "type": "quantitative"}, "y": {"datum": 38.6, "type": "quantitative"}}
    },
    {
      "data": {"values": [{}]},
      "mark": {"type": "text", "text": "Surface sorption", "font": "Liberation Mono", "fontSize": 13, "color": "black", "align": "left", "baseline": "alphabetic"},
      "encoding": {"x": {"datum": 3.03e11, "type": "quantitative"}, "y": {"datum": 19.56, "type": "quantitative"}}
    },
    {
      "data": {"values": [{}]},
      "mark": {"type": "text", "text": "Volume sorption", "font": "Liberation Mono", "fontSize": 13, "color": "black", "align": "left", "baseline": "alphabetic"},
      "encoding": {"x": {"datum": 3.03e11, "type": "quantitative"}, "y": {"datum": 9.92, "type": "quantitative"}}
    },
    {
      "data": {"values": [{}]},
      "mark": {"type": "rule", "color": "black", "strokeWidth": 1.3},
      "encoding": {"x": {"datum": 3.03e11, "type": "quantitative"}, "x2": {"datum": 3.68e12}, "y": {"datum": 34.3, "type": "quantitative"}}
    },
    {
      "data": {"values": [{}]},
      "mark": {"type": "rule", "color": "black", "strokeWidth": 1.3, "strokeDash": [9, 5]},
      "encoding": {"x": {"datum": 3.03e11, "type": "quantitative"}, "x2": {"datum": 3.68e12}, "y": {"datum": 17.38, "type": "quantitative"}}
    },
    {
      "data": {"values": [{}]},
      "mark": {"type": "rule", "color": "black", "strokeWidth": 1.3, "strokeDash": [30, 6, 2, 6]},
      "encoding": {"x": {"datum": 3.03e11, "type": "quantitative"}, "x2": {"datum": 3.68e12}, "y": {"datum": 8.65, "type": "quantitative"}}
    },
    {
      "data": {"values": [{}]},
      "mark": {"type": "text", "text": "FIGURE  25", "font": "Liberation Mono", "fontSize": 26, "color": "black", "align": "left", "baseline": "alphabetic"},
      "encoding": {"x": {"datum": 15.2, "type": "quantitative"}, "y": {"datum": 7.55e-6, "type": "quantitative"}}
    }
  ]
}
